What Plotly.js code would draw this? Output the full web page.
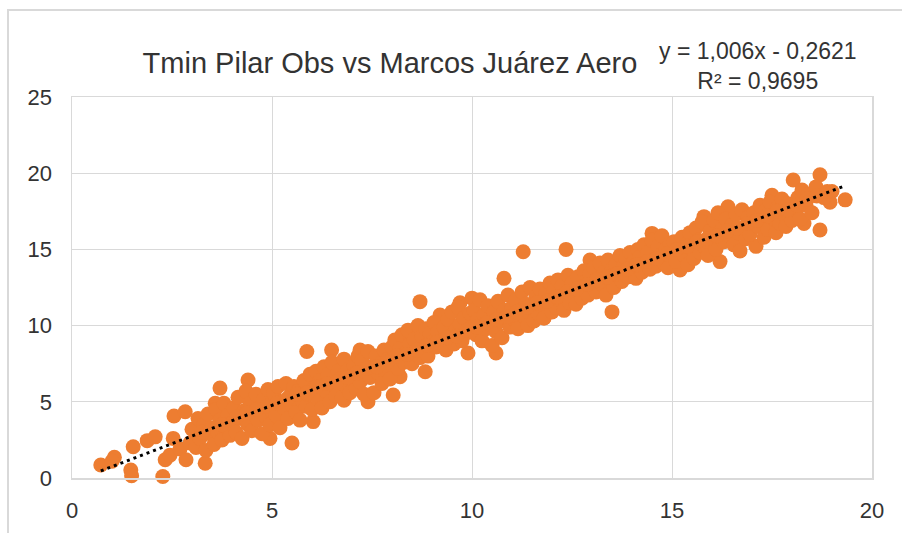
<!DOCTYPE html>
<html>
<head>
<meta charset="utf-8">
<script src="https://cdn.plot.ly/plotly-3.0.1.min.js"></script>
<style>
  html, body { margin: 0; padding: 0; background: #ffffff; }
  #wrap { position: relative; width: 902px; height: 533px; overflow: hidden; }
  #frame { position: absolute; left: 7px; top: 9px; width: 900px; height: 530px;
           border-top: 2px solid #d9d9d9; border-left: 2px solid #d9d9d9; box-sizing: border-box; }
  #chart { position: absolute; left: 0; top: 0; width: 902px; height: 533px; }
</style>
</head>
<body>
<div id="wrap"><div id="frame"></div><div id="chart"></div></div>
<script>
// Tmin Marcos Juárez Aero (x) vs Tmin Pilar Obs (y)
const pts0to5 = [
  [0.72,0.85],[1.06,1.36],[1.0,1.1],[1.47,0.52],[1.49,0.15],[1.53,2.05],[1.88,2.45],[2.08,2.7],
  [2.27,0.1],[2.33,1.2],[2.45,1.5],[2.53,2.6],[2.55,4.07],[2.7,1.9],[2.83,4.35],[2.85,1.2],
  [2.95,2.3],[3.33,0.97],[3.58,4.9],[3.7,5.9],[4.4,6.43],[4.95,2.6],
  [3.0,3.2],[3.1,2.0],[3.15,3.9],[3.2,2.6],[3.3,3.5],[3.35,1.8],[3.4,4.2],[3.45,2.9],[3.5,3.3],
  [3.55,2.2],[3.6,4.5],[3.65,3.0],[3.7,3.8],[3.75,2.5],[3.8,4.9],[3.85,3.4],[3.9,4.1],[3.95,2.8],[4.0,3.6],
  [4.05,4.6],[4.1,3.0],[4.15,5.3],[4.2,3.9],[4.25,2.6],[4.3,4.4],[4.35,5.7],[4.4,3.5],[4.45,4.9],[4.5,3.1],
  [4.55,4.2],[4.6,5.5],[4.65,3.8],[4.7,4.6],[4.75,2.9],[4.8,5.2],[4.85,4.0],[4.9,5.8],[4.95,3.5],[5.0,4.4],
  [3.25,3.0],[3.75,3.5],[4.12,4.0],[4.38,4.3],[4.62,4.5],[4.88,4.7]
];
const pts5to10 = [
  [5.5,2.3],[6.03,3.7],[5.87,8.3],[6.49,8.4],[8.03,5.45],[8.83,6.97],[8.2,6.65],[7.2,8.4],[8.07,9.05],
  [9.2,10.7],[9.7,11.5],[8.7,11.57],[9.9,8.2],[6.8,5.1],[7.4,5.0],
  [5.05,5.6],[5.1,4.1],[5.15,6.0],[5.2,3.3],[5.25,5.0],[5.3,4.6],[5.35,6.2],[5.4,3.9],[5.45,5.4],[5.5,4.8],
  [5.55,6.0],[5.6,4.3],[5.65,5.7],[5.7,3.8],[5.75,5.1],[5.8,6.4],[5.85,4.7],[5.9,5.5],[5.95,6.8],[6.0,4.5],
  [6.05,5.9],[6.1,7.0],[6.15,5.2],[6.2,6.4],[6.25,4.6],[6.3,7.3],[6.35,5.7],[6.4,6.8],[6.45,5.0],[6.5,7.6],
  [6.55,6.1],[6.6,5.4],[6.65,7.0],[6.7,6.5],[6.75,5.3],[6.8,7.8],[6.85,6.0],[6.9,7.1],[6.95,5.6],[7.0,6.7],
  [7.05,7.4],[7.1,5.9],[7.15,8.0],[7.2,6.3],[7.25,7.7],[7.3,5.5],[7.35,7.0],[7.4,8.3],[7.45,6.6],[7.5,7.3],
  [7.55,5.6],[7.6,8.0],[7.65,6.9],[7.7,7.5],[7.75,6.2],[7.8,8.4],[7.85,7.1],[7.9,7.8],[7.95,6.5],[8.0,8.6],
  [8.05,7.9],[8.1,9.0],[8.15,7.2],[8.2,8.5],[8.25,9.4],[8.3,7.6],[8.35,8.2],[8.4,9.7],[8.45,8.8],[8.5,7.5],
  [8.55,9.1],[8.6,8.3],[8.65,10.0],[8.7,7.9],[8.75,9.3],[8.8,8.6],[8.85,9.8],[8.9,8.0],[8.95,9.5],[9.0,8.9],
  [9.05,10.2],[9.1,8.6],[9.15,9.6],[9.25,9.0],[9.3,9.9],[9.35,8.4],[9.4,10.4],[9.45,9.3],[9.5,10.9],
  [9.55,8.8],[9.6,9.7],[9.65,11.2],[9.7,10.1],[9.75,9.0],[9.8,10.5],[9.85,9.5],[9.95,10.8],[10.0,9.9],
  [5.12,4.9],[5.38,5.2],[5.62,5.5],[5.88,5.6],[6.12,6.0],[6.38,6.2],[6.62,6.3],[6.88,6.6],[7.12,6.9],
  [7.38,7.2],[7.62,7.3],[7.88,7.6],[8.12,8.0],[8.38,8.1],[8.62,8.4],[8.88,8.7],[9.12,8.9],[9.38,9.2],
  [9.62,9.3],[9.88,9.7]
];
const pts10to15 = [
  [11.28,14.85],[12.35,15.0],[10.8,13.1],[13.5,10.9],[10.6,8.2],[10.0,11.8],[14.5,16.05],[12.95,14.3],[11.8,10.5],
  [10.05,11.0],[10.1,9.4],[10.15,10.4],[10.2,11.7],[10.25,9.0],[10.3,10.7],[10.35,9.8],[10.4,11.3],[10.45,10.1],
  [10.5,8.7],[10.55,10.9],[10.6,9.6],[10.65,11.6],[10.7,10.3],[10.75,9.2],[10.8,11.0],[10.85,10.5],[10.9,12.0],
  [10.95,9.9],[11.0,11.2],
  [11.05,10.4],[11.1,11.7],[11.15,9.8],[11.2,11.0],[11.25,12.2],[11.3,10.6],[11.35,11.4],[11.4,10.0],[11.45,12.5],
  [11.5,11.1],[11.55,10.3],[11.6,11.9],[11.65,10.8],[11.7,12.4],[11.75,11.3],[11.8,10.5],[11.85,12.1],[11.9,11.6],
  [11.95,12.8],[12.0,10.9],
  [12.05,12.3],[12.1,11.2],[12.15,13.0],[12.2,11.7],[12.25,12.6],[12.3,11.0],[12.35,12.1],[12.4,13.3],[12.45,11.5],
  [12.5,12.8],[12.55,12.2],[12.6,11.4],[12.65,13.2],[12.7,12.5],[12.75,11.8],[12.8,13.6],[12.85,12.9],[12.9,12.0],
  [12.95,13.4],[13.0,12.6],
  [13.05,13.8],[13.1,12.2],[13.15,13.1],[13.2,14.1],[13.25,12.7],[13.3,13.5],[13.35,12.0],[13.4,14.3],[13.45,13.0],
  [13.5,13.7],[13.55,12.5],[13.6,14.0],[13.65,13.3],[13.7,14.6],[13.75,12.9],[13.8,13.9],[13.85,14.4],[13.9,13.2],
  [13.95,14.8],[14.0,13.6],
  [14.05,14.2],[14.1,13.1],[14.15,15.0],[14.2,14.5],[14.25,13.5],[14.3,15.3],[14.35,14.0],[14.4,14.8],[14.45,13.7],
  [14.5,15.6],[14.55,14.3],[14.6,13.9],[14.65,15.2],[14.7,14.6],[14.75,15.9],[14.8,14.1],[14.85,15.0],[14.9,13.8],
  [14.95,15.4],[15.0,14.7],
  [10.12,9.9],[10.38,10.2],[10.62,10.4],[10.88,10.6],[11.12,10.9],[11.38,11.2],[11.62,11.5],[11.88,11.6],
  [12.12,11.9],[12.38,12.2],[12.62,12.4],[12.88,12.7],[13.12,13.0],[13.38,13.2],[13.62,13.4],[13.88,13.7],
  [14.12,14.0],[14.38,14.2],[14.62,14.4],[14.88,14.7]
];
const pts15to20 = [
  [18.7,16.27],[19.33,18.25],[18.7,19.9],[18.03,19.55],[18.95,18.1],[15.2,13.65],[16.2,14.2],[17.1,15.2],
  [15.8,17.15],[16.4,17.8],[17.5,18.55],[18.3,16.7],
  [15.05,15.5],[15.1,14.2],[15.15,15.0],[15.25,15.8],[15.3,14.6],[15.35,15.3],[15.4,14.0],[15.45,16.1],
  [15.5,15.0],[15.55,14.4],[15.6,16.4],[15.65,15.6],[15.7,14.8],[15.75,16.8],[15.8,15.2],[15.9,14.6],
  [15.95,16.2],[16.0,15.7],
  [16.05,16.9],[16.1,15.0],[16.15,17.4],[16.25,16.3],[16.3,15.5],[16.35,17.0],[16.45,15.9],[16.5,16.6],
  [16.55,15.3],[16.6,17.3],[16.65,16.1],[16.7,14.9],[16.75,17.6],[16.8,16.4],[16.85,15.7],[16.9,17.1],
  [16.95,16.0],[17.0,16.8],
  [17.05,17.4],[17.15,16.5],[17.2,17.9],[17.25,16.9],[17.3,15.8],[17.35,17.6],[17.4,16.3],[17.45,18.1],
  [17.55,17.0],[17.6,16.1],[17.65,17.8],[17.7,16.7],[17.75,18.3],[17.8,17.3],[17.85,16.5],[17.9,18.0],
  [17.95,17.2],[18.0,16.9],
  [18.1,17.6],[18.15,18.4],[18.2,17.0],[18.25,18.9],[18.35,17.9],[18.4,18.6],[18.5,17.4],[18.6,19.1],
  [18.8,18.4],[19.0,18.8],
  [15.12,15.0],[15.38,15.2],[15.62,15.5],[15.88,15.7],[16.12,15.9],[16.38,16.2],[16.62,16.4],[16.88,16.7],
  [17.12,16.9],[17.38,17.2],[17.62,17.5],[17.88,17.6],[18.12,17.9],[18.38,18.3],[18.62,18.5],[18.88,18.8]
];

const xTicks = [0, 5, 10, 15, 20];
const yTicks = [0, 5, 10, 15, 20, 25];
const trendSlope = 1.006;
const trendIntercept = -0.2621;
const titleText = "Tmin Pilar Obs vs Marcos Juárez Aero";
const eqText = "y = 1,006x - 0,2621";
const r2Text = "R² = 0,9695";

const allPts = pts0to5.concat(pts5to10, pts10to15, pts15to20);
const xs = allPts.map(p => p[0]);
const ys = allPts.map(p => p[1]);
const xMin = Math.min(...xs), xMax = Math.max(...xs);

const FONT = "Liberation Sans, Arial, sans-serif";
const TXT = "#333333";
const GRID = "#d9d9d9";

const scatter = {
  type: "scatter", mode: "markers", x: xs, y: ys, cliponaxis: false,
  marker: { color: "#ED7D31", size: 15, line: { width: 0 } },
  hoverinfo: "skip", showlegend: false
};
const trend = {
  type: "scatter", mode: "lines", cliponaxis: false,
  x: [xMin, xMax],
  y: [trendSlope * xMin + trendIntercept, trendSlope * xMax + trendIntercept],
  line: { color: "#000000", width: 3, dash: "3px,4px" },
  hoverinfo: "skip", showlegend: false
};

const axisCommon = {
  showgrid: true, gridcolor: GRID, gridwidth: 1,
  showline: true, linecolor: GRID, linewidth: 1.5, mirror: true,
  zeroline: false, ticks: "",
  tickfont: { family: FONT, size: 22, color: TXT },
  fixedrange: true
};

const layout = {
  width: 902, height: 533,
  margin: { l: 72, r: 30, t: 97, b: 55, pad: 0 },
  paper_bgcolor: "rgba(0,0,0,0)", plot_bgcolor: "#ffffff",
  font: { family: FONT, color: TXT },
  title: {
    text: titleText,
    font: { family: FONT, size: 29, color: TXT },
    xref: "container", x: 390 / 902, xanchor: "center",
    yref: "container", y: 1 - 63 / 533, yanchor: "middle"
  },
  xaxis: Object.assign({}, axisCommon, {
    range: [0, 20], tickmode: "array", tickvals: xTicks, ticktext: xTicks.map(String),
    ticklabelstandoff: 12
  }),
  yaxis: Object.assign({}, axisCommon, {
    range: [0, 25], tickmode: "array", tickvals: yTicks, ticktext: yTicks.map(String),
    ticklabelstandoff: 14
  }),
  annotations: [{
    xref: "paper", yref: "paper", x: (758 - 72) / 800, y: (478 - 66) / 381,
    xanchor: "center", yanchor: "middle", showarrow: false, align: "center",
    text: eqText + "<br>" + r2Text,
    font: { family: FONT, size: 23, color: TXT }
  }],
  showlegend: false
};

Plotly.newPlot("chart", [scatter, trend], layout, { staticPlot: true, displayModeBar: false });
</script>
</body>
</html>
